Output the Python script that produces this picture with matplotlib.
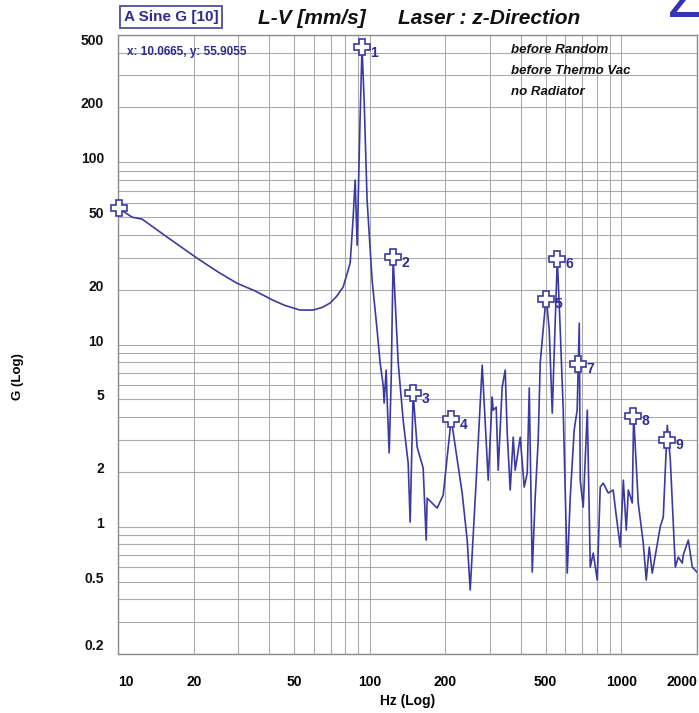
import matplotlib
matplotlib.use("Agg")
from matplotlib import pyplot as plt
from matplotlib import transforms
import numpy as np

plt.rcParams["font.family"] = ["Liberation Sans", "DejaVu Sans"]

# Sine sweep response, L-V laser in z-direction
freq_hz = [10.07, 11.37, 12.46, 15.66, 20.6, 25.0, 29.7, 35.0, 41.3, 46.0,
           52.9, 59.6, 65.0, 69.7, 74.0, 78.5, 83.7, 85.9, 87.6, 89.2,
           91.6, 93.3, 95.1, 97.7, 102.3, 107.1, 110.1, 113.2, 114.2, 116.3,
           117.4, 119.6, 121.8, 124.0, 126.3, 129.9, 135.9, 142.3, 144.9, 148.9,
           154.5, 163.2, 167.8, 169.3, 185.5, 196.0, 211.0, 233.2, 244.2, 251.0,
           265.2, 280.2, 296.0, 307.0, 309.7, 318.4, 324.3, 336.4, 345.8, 352.2,
           362.0, 372.1, 378.9, 396.7, 411.6, 423.0, 430.9, 442.9, 455.0, 467.7,
           476.4, 503.0, 517.4, 531.8, 546.7, 557.0, 572.2, 588.0, 610.0, 627.0,
           650.0, 668.0, 681.0, 687.0, 706.0, 733.0, 753.0, 774.0, 803.0, 825.0,
           848.0, 888.0, 929.0, 946.0, 991.0, 1019, 1047, 1067, 1106, 1120,
           1168, 1223, 1257, 1292, 1328, 1429, 1469, 1510, 1524, 1567,
           1640, 1685, 1748, 1764, 1847, 1916, 2000]
accel_g = [55.9, 50.0, 48.8, 38.9, 29.8, 25.0, 21.7, 19.7, 17.5, 16.4,
           15.45, 15.45, 16.0, 16.9, 18.4, 20.7, 28.0, 48.2, 79.9, 35.1,
           170.0, 429.0, 219.0, 62.0, 22.6, 12.0, 7.9, 5.98, 4.77, 7.24,
           4.95, 2.54, 6.38, 30.2, 17.5, 7.9, 3.85, 2.23, 1.06, 5.41,
           2.73, 2.10, 0.844, 1.435, 1.265, 1.49, 3.9, 1.53, 0.844, 0.449,
           1.80, 7.71, 1.80, 5.14, 4.36, 4.53, 2.04, 5.84, 7.24, 3.26,
           1.59, 3.10, 2.04, 3.10, 1.65, 1.97, 5.77, 0.563, 1.45, 2.99,
           7.9, 18.5, 12.0, 4.20, 13.6, 29.6, 12.0, 4.36, 0.556, 1.45,
           3.39, 4.36, 13.1, 1.80, 1.28, 4.36, 0.60, 0.716, 0.509, 1.65,
           1.735, 1.53, 1.59, 1.28, 0.773, 1.80, 0.958, 1.59, 1.35, 4.1,
           1.35, 0.813, 0.509, 0.773, 0.556, 1.0, 1.13, 2.73, 3.6, 2.32,
           0.60, 0.681, 0.631, 0.70, 0.844, 0.60, 0.563]

# Peak markers (the first one is the cursor start point)
marker_hz = [10.07, 93.3, 124.0, 148.9, 211.0, 503.0, 557.0, 675.0, 1117, 1524]
marker_g = [55.9, 429.0, 30.2, 5.41, 3.9, 17.8, 29.6, 7.85, 4.07, 3.0]
marker_ids = ["", "1", "2", "3", "4", "5", "6", "7", "8", "9"]

x_ticks = [10, 20, 50, 100, 200, 500, 1000, 2000]
y_ticks = [0.2, 0.5, 1, 2, 5, 10, 20, 50, 100, 200, 500]
y_tick_text = ["0.2", "0.5", "1", "2", "5", "10", "20", "50", "100", "200", "500"]

notes = ["before Random", "before Thermo Vac", "no Radiator"]

line_col = "#3a3aa6"
text_col = "#2c2c94"
grid_col = "#ababab"

W, H = 699, 713
fig = plt.figure(figsize=(W / 100, H / 100), dpi=100)
ax = fig.add_axes([118 / W, 1 - 654 / H, (697 - 118) / W, (654 - 35) / H])
ax.set_xscale("log")
ax.set_yscale("log")
ax.set_xlim(10, 2000)
ax.set_ylim(0.2, 500)

ax.grid(True, which="both", color=grid_col, lw=0.8)
ax.set_axisbelow(True)
for s in ax.spines.values():
    s.set_color("#8c8c8c")
    s.set_linewidth(1.0)

ax.plot(freq_hz, accel_g, color=line_col, lw=1.2, zorder=3)
ax.plot(marker_hz, marker_g, ls="none", marker="P", ms=11, clip_on=False,
        mfc="white", mec=line_col, mew=1.2, zorder=4)
for fx, gy, lab in zip(marker_hz, marker_g, marker_ids):
    if lab:
        ax.annotate(lab, (fx, gy), xytext=(6, -4), textcoords="offset points",
                    color=text_col, fontsize=10, fontweight="bold",
                    ha="left", va="center", zorder=5)

# x tick labels
ax.set_xticks(x_ticks)
ax.set_xticklabels([str(v) for v in x_ticks])
ax.xaxis.set_minor_locator(matplotlib.ticker.LogLocator(subs=np.arange(2, 10)))
ax.xaxis.set_minor_formatter(matplotlib.ticker.NullFormatter())
ax.tick_params(axis="x", which="both", length=0, pad=15, labelsize=10)
for t in ax.get_xticklabels():
    t.set_fontweight("bold")
xl = ax.get_xticklabels()
xl[0].set_ha("left")
xl[-1].set_ha("right")

# y tick labels drawn as text so each can be nudged
ax.set_yticks(y_ticks)
ax.yaxis.set_minor_locator(matplotlib.ticker.LogLocator(subs=np.arange(2, 10)))
ax.tick_params(axis="y", which="both", length=0, labelleft=False)
ytrans = ax.get_yaxis_transform()
for v, lab in zip(y_ticks, y_tick_text):
    dy = 3
    if v == 500:
        dy = -6
    elif v == 0.2:
        dy = 8
    off = transforms.ScaledTranslation(0, dy / 100, fig.dpi_scale_trans)
    ax.text(-0.024, v, lab, transform=ytrans + off, ha="right", va="center",
            fontsize=10, fontweight="bold", color="#111111")

ax.set_xlabel("Hz (Log)", fontsize=10, fontweight="bold", labelpad=4)
fig.text(18 / W, 1 - 377 / H, "G (Log)", rotation=90, ha="center", va="center",
         fontsize=9.5, fontweight="bold")

# header
fig.text(124 / W, 1 - 17 / H, "A Sine G [10]", color=text_col, fontsize=11,
         fontweight="bold", ha="left", va="center",
         bbox=dict(boxstyle="square,pad=0.25", fc="white", ec="#5a5aa8", lw=1.4))
fig.text(258 / W, 1 - 18 / H, "L-V [mm/s]", fontsize=15, fontweight="bold",
         style="italic", ha="left", va="center", color="#111111")
fig.text(398 / W, 1 - 18 / H, "Laser : z-Direction", fontsize=15,
         fontweight="bold", style="italic", ha="left", va="center", color="#111111")
fig.text(668 / W, 1 - 17 / H, "Z", fontsize=44, color="#3434b4",
         ha="left", va="baseline")

fig.text(127 / W, 1 - 52 / H, "x: 10.0665, y: 55.9055",
         color=text_col, fontsize=8.5, fontweight="bold", ha="left", va="center")
for i, n in enumerate(notes):
    fig.text(511 / W, 1 - (50 + 21 * i) / H, n, fontsize=9.5, fontweight="bold",
             style="italic", ha="left", va="center", color="#111111")

fig.savefig("out.png", dpi=100)
